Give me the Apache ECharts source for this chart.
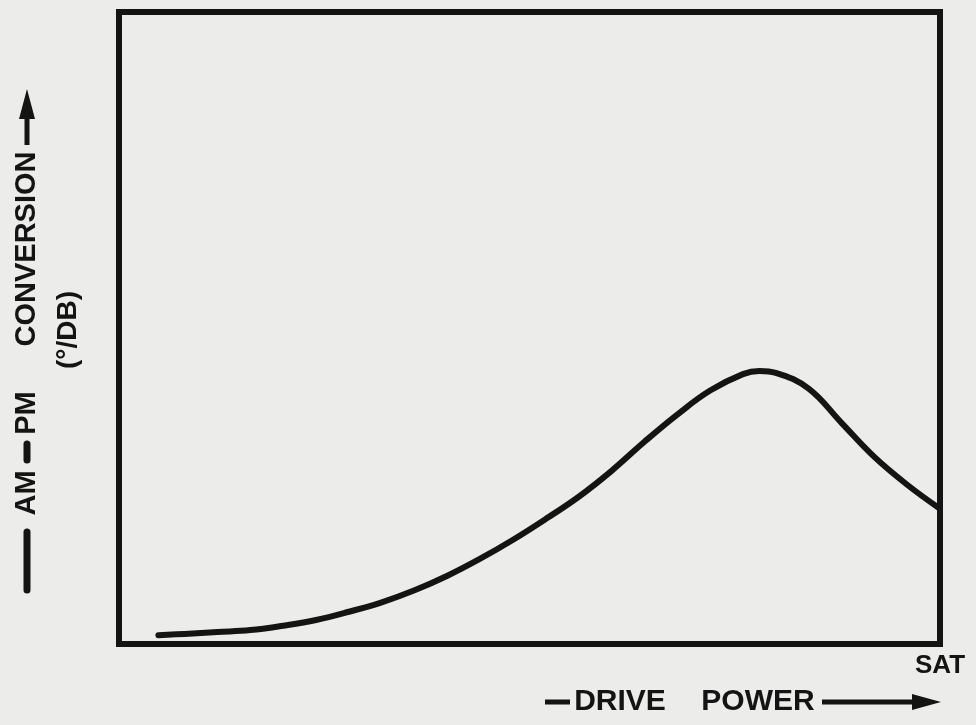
<!DOCTYPE html>
<html>
<head>
<meta charset="utf-8">
<title>AM-PM conversion vs drive power</title>
<script src="https://cdn.jsdelivr.net/npm/echarts@6/dist/echarts.min.js"></script>
<style>
  html, body { margin: 0; padding: 0; background: #ececea; }
  #chart { width: 976px; height: 725px; }
</style>
</head>
<body>
<div id="chart"></div>
<script>
// drive power (0 = low, 100 = SAT)
var drivePower = [4.8, 8, 12, 16, 20, 24, 28, 32, 36, 40, 44, 48, 52, 56, 60, 64, 68, 72, 76, 78, 80, 84, 88, 92, 96, 100];
// AM-PM conversion (arbitrary units, no scale on the original)
var conversion = [1.4, 1.6, 1.9, 2.2, 2.9, 3.8, 5.1, 6.6, 8.5, 10.8, 13.5, 16.5, 19.8, 23.3, 27.4, 32.0, 36.3, 40.1, 42.7, 43.2, 42.9, 40.4, 35.0, 29.6, 25.2, 21.4];

var ink = '#141414';
var fontBig = 'bold 29px "Liberation Sans", Arial, sans-serif';

var curve = [];
for (var i = 0; i < drivePower.length; i++) {
    curve.push([drivePower[i], conversion[i]]);
}

var myChart = echarts.init(document.getElementById('chart'));

var option = {
    backgroundColor: '#ececea',
    animation: false,
    grid: {
        left: 119,
        right: 36,
        top: 12,
        bottom: 81,
        show: true,
        borderWidth: 6,
        borderColor: ink,
        backgroundColor: 'transparent'
    },
    xAxis: {
        type: 'value',
        min: 0,
        max: 100,
        show: false
    },
    yAxis: {
        type: 'value',
        min: 0,
        max: 100,
        show: false
    },
    series: [{
        type: 'line',
        data: curve,
        smooth: 0.4,
        showSymbol: false,
        lineStyle: { color: ink, width: 6, cap: 'round', join: 'round' }
    }],
    graphic: [
        // y axis label (reads bottom to top)
        { type: 'line', shape: { x1: 27, y1: 590, x2: 27, y2: 532 }, style: { stroke: ink, lineWidth: 7, lineCap: 'round' } },
        { type: 'text', x: 27, y: 493, rotation: Math.PI / 2,
          style: { text: 'AM', font: fontBig, fill: ink, align: 'center', verticalAlign: 'middle' } },
        { type: 'line', shape: { x1: 27, y1: 460, x2: 27, y2: 444 }, style: { stroke: ink, lineWidth: 7, lineCap: 'round' } },
        { type: 'text', x: 27, y: 413, rotation: Math.PI / 2,
          style: { text: 'PM', font: fontBig, fill: ink, align: 'center', verticalAlign: 'middle' } },
        { type: 'text', x: 27, y: 249, rotation: Math.PI / 2,
          style: { text: 'CONVERSION', font: fontBig, fill: ink, align: 'center', verticalAlign: 'middle' } },
        { type: 'line', shape: { x1: 27, y1: 145, x2: 27, y2: 112 }, style: { stroke: ink, lineWidth: 5 } },
        { type: 'polygon', shape: { points: [[27, 89], [35, 119], [19, 119]] }, style: { fill: ink } },
        { type: 'text', x: 68, y: 330, rotation: Math.PI / 2,
          style: { text: '(°/DB)', font: 'bold 28px "Liberation Sans", Arial, sans-serif', fill: ink, align: 'center', verticalAlign: 'middle' } },

        // x axis label
        { type: 'text', x: 940, y: 666,
          style: { text: 'SAT', font: 'bold 26px "Liberation Sans", Arial, sans-serif', fill: ink, align: 'center', verticalAlign: 'middle' } },
        { type: 'line', shape: { x1: 545, y1: 702, x2: 570, y2: 702 }, style: { stroke: ink, lineWidth: 5 } },
        { type: 'text', x: 620, y: 702,
          style: { text: 'DRIVE', font: 'bold 30px "Liberation Sans", Arial, sans-serif', fill: ink, align: 'center', verticalAlign: 'middle' } },
        { type: 'text', x: 758, y: 702,
          style: { text: 'POWER', font: 'bold 30px "Liberation Sans", Arial, sans-serif', fill: ink, align: 'center', verticalAlign: 'middle' } },
        { type: 'line', shape: { x1: 822, y1: 702, x2: 918, y2: 702 }, style: { stroke: ink, lineWidth: 5 } },
        { type: 'polygon', shape: { points: [[941, 702], [912, 694], [912, 710]] }, style: { fill: ink } }
    ]
};

myChart.setOption(option);
</script>
</body>
</html>
